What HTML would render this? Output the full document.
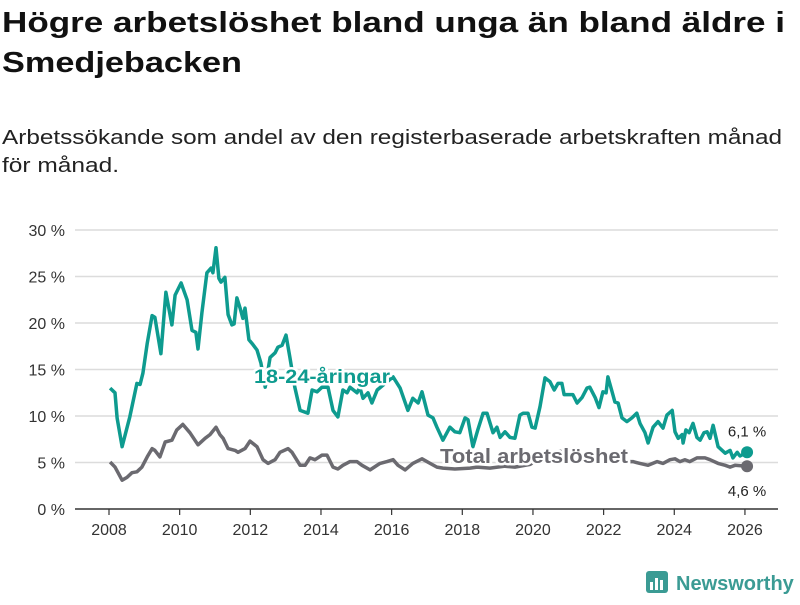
<!DOCTYPE html>
<html><head><meta charset="utf-8"><style>
body{margin:0;background:#fff;width:800px;height:600px;overflow:hidden;font-family:"Liberation Sans",sans-serif}
</style></head><body>
<svg id="chart" width="800" height="600" xmlns="http://www.w3.org/2000/svg" font-family="Liberation Sans, sans-serif">
<text x="2" y="32" font-size="29" font-weight="bold" fill="#111" textLength="783" lengthAdjust="spacingAndGlyphs">Högre arbetslöshet bland unga än bland äldre i</text>
<text x="2" y="72" font-size="29" font-weight="bold" fill="#111" textLength="240" lengthAdjust="spacingAndGlyphs">Smedjebacken</text>
<text x="2" y="144" font-size="20" fill="#222" textLength="780" lengthAdjust="spacingAndGlyphs">Arbetssökande som andel av den registerbaserade arbetskraften månad</text>
<text x="2" y="172" font-size="20" fill="#222" textLength="117" lengthAdjust="spacingAndGlyphs">för månad.</text>
<g id="grid"></g>
<g id="xaxis"></g>
<g id="series"></g>
<g>
<rect x="646" y="571" width="22" height="22" rx="3" fill="#3b9b94"/>
<rect x="650" y="582" width="3" height="8" fill="#fff"/><rect x="655" y="578" width="3" height="12" fill="#fff"/><rect x="660" y="580" width="3" height="10" fill="#fff"/>
<text x="676" y="590" font-size="20" font-weight="bold" fill="#3b9b94">Newsworthy</text>
</g>
</svg>
<script>
const yTicks=[0,5,10,15,20,25,30];
const yTickLabels=["0 %","5 %","10 %","15 %","20 %","25 %","30 %"];
const xTicks=[2008,2010,2012,2014,2016,2018,2020,2022,2024,2026];
const youthDates=[2008.03,2008.17,2008.23,2008.37,2008.59,2008.79,2008.88,2008.96,2009.08,2009.22,2009.30,2009.47,2009.61,2009.78,2009.87,2010.04,2010.21,2010.35,2010.46,2010.52,2010.63,2010.77,2010.89,2010.94,2011.03,2011.11,2011.17,2011.28,2011.37,2011.48,2011.54,2011.62,2011.71,2011.79,2011.85,2011.96,2012.07,2012.19,2012.30,2012.42,2012.56,2012.70,2012.78,2012.90,2013.01,2013.12,2013.26,2013.41,2013.63,2013.75,2013.89,2014.03,2014.20,2014.34,2014.48,2014.62,2014.74,2014.82,2015.02,2015.10,2015.19,2015.33,2015.44,2015.59,2016.04,2016.24,2016.46,2016.60,2016.75,2016.86,2017.03,2017.17,2017.28,2017.45,2017.65,2017.79,2017.93,2018.08,2018.16,2018.30,2018.44,2018.59,2018.70,2018.87,2018.98,2019.07,2019.21,2019.35,2019.49,2019.63,2019.72,2019.86,2019.97,2020.06,2020.20,2020.34,2020.48,2020.60,2020.71,2020.82,2020.88,2021.05,2021.13,2021.25,2021.39,2021.53,2021.61,2021.76,2021.87,2021.98,2022.07,2022.12,2022.24,2022.32,2022.41,2022.52,2022.66,2022.80,2022.94,2023.03,2023.17,2023.26,2023.40,2023.54,2023.68,2023.79,2023.94,2024.02,2024.11,2024.22,2024.25,2024.33,2024.42,2024.53,2024.64,2024.73,2024.84,2024.93,2025.01,2025.10,2025.24,2025.44,2025.58,2025.66,2025.78,2025.86,2026.06];
const youthValues=[13.0,12.5,9.8,6.7,9.9,13.5,13.4,14.6,17.8,20.8,20.6,16.7,23.3,19.8,23.0,24.3,22.5,19.2,19.0,17.2,21.1,25.4,25.9,25.4,28.1,24.8,24.4,24.9,20.9,19.8,19.9,22.7,21.6,20.5,21.6,18.2,17.7,17.1,15.7,13.1,16.3,16.8,17.4,17.6,18.7,16.3,13.1,10.6,10.3,12.8,12.6,13.1,13.1,10.6,9.9,12.8,12.5,13.1,12.5,13.1,11.9,12.5,11.4,12.8,14.2,13.0,10.6,11.9,11.4,12.6,10.1,9.8,8.8,7.4,8.8,8.3,8.2,9.8,9.6,6.7,8.5,10.3,10.3,8.2,8.8,7.7,8.3,7.7,7.6,10.1,10.3,10.3,8.8,8.7,11.0,14.1,13.7,12.8,13.5,13.5,12.3,12.3,12.3,11.4,12.0,13.0,13.1,12.0,10.9,12.6,12.5,14.2,12.6,11.5,11.4,9.8,9.4,9.8,10.3,9.2,8.2,7.1,8.8,9.4,8.7,10.1,10.6,8.3,7.6,8.0,7.1,8.5,8.2,9.2,7.7,7.4,8.2,8.3,7.6,9.0,6.7,6.0,6.3,5.5,6.1,5.7,6.1];
const totalDates=[2008.03,2008.17,2008.37,2008.51,2008.65,2008.79,2008.93,2009.08,2009.22,2009.30,2009.44,2009.59,2009.78,2009.92,2010.09,2010.29,2010.52,2010.72,2010.86,2011.03,2011.14,2011.23,2011.37,2011.57,2011.65,2011.85,2011.99,2012.19,2012.36,2012.50,2012.70,2012.84,2013.07,2013.18,2013.41,2013.55,2013.69,2013.83,2014.03,2014.17,2014.34,2014.48,2014.62,2014.82,2015.02,2015.16,2015.39,2015.67,2015.87,2016.04,2016.18,2016.38,2016.60,2016.86,2017.09,2017.28,2017.45,2017.79,2018.22,2018.42,2018.78,2019.21,2019.49,2019.92,2020.34,2020.77,2021.19,2021.61,2022.18,2022.83,2023.03,2023.26,2023.51,2023.68,2023.88,2024.02,2024.16,2024.30,2024.44,2024.64,2024.87,2025.01,2025.24,2025.44,2025.58,2025.72,2026.06];
const totalValues=[5.05,4.5,3.1,3.4,3.9,4.0,4.5,5.6,6.5,6.3,5.6,7.2,7.4,8.5,9.1,8.2,6.9,7.6,8.0,8.8,8.0,7.6,6.5,6.3,6.1,6.5,7.3,6.7,5.3,4.9,5.3,6.1,6.5,6.1,4.7,4.7,5.5,5.3,5.8,5.8,4.5,4.3,4.7,5.1,5.1,4.7,4.2,4.9,5.1,5.3,4.7,4.2,4.9,5.4,4.9,4.5,4.4,4.3,4.4,4.5,4.4,4.6,4.5,4.8,5.8,6.2,5.7,5.3,5.1,5.1,4.9,4.7,5.1,4.9,5.3,5.4,5.1,5.3,5.1,5.5,5.5,5.3,4.9,4.7,4.5,4.7,4.6];
const youthEndLabel="6,1 %";
const totalEndLabel="4,6 %";
const NS="http://www.w3.org/2000/svg";
const xS=y=>109+(y-2008)*35.33;
const yS=v=>509-v*9.3;
function mk(tag,attrs,parent){const e=document.createElementNS(NS,tag);for(const k in attrs)e.setAttribute(k,attrs[k]);parent.appendChild(e);return e;}
const grid=document.getElementById('grid');
yTicks.forEach((t,i)=>{
 if(t>0){const l=mk('line',{x1:75,x2:778,y1:yS(t),y2:yS(t),stroke:'#dcdcdc','stroke-width':1.5},grid);
 
 }
 const tx=mk('text',{x:65,y:yS(t)+6,'text-anchor':'end','font-size':16,fill:'#333'},grid);
 
 
 tx.textContent=yTickLabels[i];
});
const xa=document.getElementById('xaxis');
const al=mk('line',{x1:75,x2:778,y1:509,y2:509,stroke:'#333','stroke-width':1.5},xa);


xTicks.forEach(t=>{
 const tk=mk('line',{x1:xS(t),x2:xS(t),y1:509,y2:515,stroke:'#333','stroke-width':1.2},xa);
 
 
 const tx=mk('text',{x:xS(t),y:535,'text-anchor':'middle','font-size':16,fill:'#333'},xa);
 
 
 tx.textContent=t;
});
const s=document.getElementById('series');
function path(d,v){return d.map((x,i)=>(i?'L':'M')+xS(x).toFixed(1)+','+yS(v[i]).toFixed(1)).join('');}
const tl=mk('path',{d:path(totalDates,totalValues),fill:'none',stroke:'#6b6a70','stroke-width':3.5,'stroke-linejoin':'round'},s);


const yl=mk('path',{d:path(youthDates,youthValues),fill:'none',stroke:'#0e9b8f','stroke-width':3.5,'stroke-linejoin':'round'},s);


const ty=youthDates[youthDates.length-1],vy=youthValues[youthValues.length-1];
const tt=totalDates[totalDates.length-1],vt=totalValues[totalValues.length-1];
const d1=mk('circle',{cx:xS(ty),cy:yS(vy),r:6,fill:'#0e9b8f'},s);


const d2=mk('circle',{cx:xS(tt),cy:yS(vt),r:6,fill:'#6b6a70'},s);


const e1=mk('text',{x:xS(ty),y:yS(vy)-16,'text-anchor':'middle','font-size':15,fill:'#222'},s);


e1.textContent=youthEndLabel;
const e2=mk('text',{x:xS(tt),y:yS(vt)+30,'text-anchor':'middle','font-size':15,fill:'#222'},s);


e2.textContent=totalEndLabel;
const l1=mk('text',{x:322,y:383,'text-anchor':'middle','font-size':19,'font-weight':'bold',fill:'#0e9b8f',stroke:'#fff','stroke-width':5,'paint-order':'stroke','stroke-linejoin':'round',textLength:136,lengthAdjust:'spacingAndGlyphs'},s);


l1.textContent='18-24-åringar';
const l2=mk('text',{x:534,y:463,'text-anchor':'middle','font-size':20,'font-weight':'bold',fill:'#6b6a70',stroke:'#fff','stroke-width':5,'paint-order':'stroke','stroke-linejoin':'round',textLength:188,lengthAdjust:'spacingAndGlyphs'},s);


l2.textContent='Total arbetslöshet';
</script>
</body></html>
